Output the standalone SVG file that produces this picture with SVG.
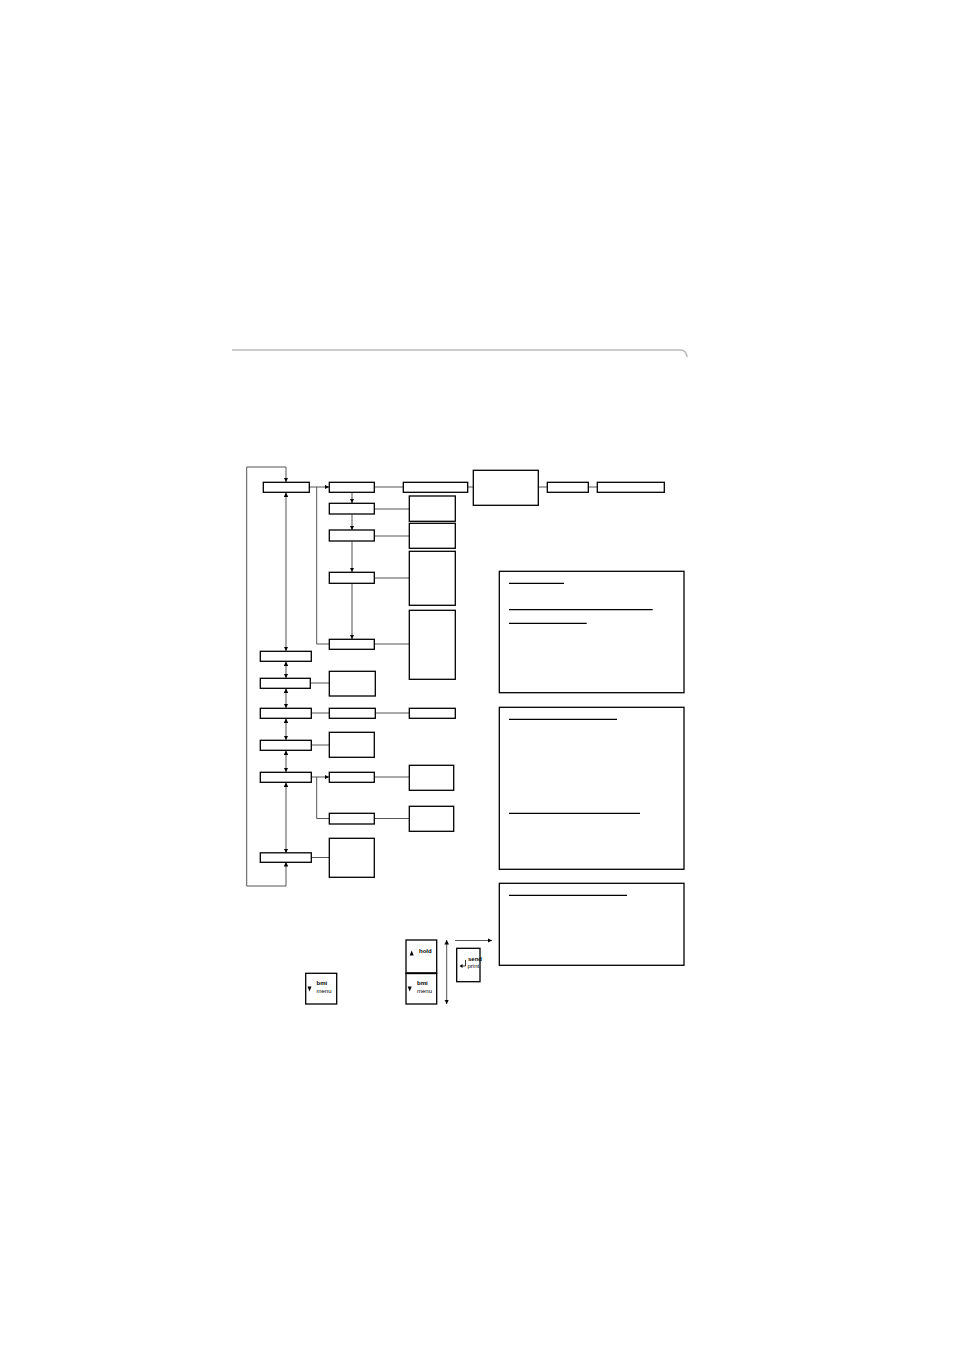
<svg xmlns="http://www.w3.org/2000/svg" width="954" height="1347" viewBox="0 0 954 1347">
<style>
.b{fill:#fff;stroke:#000;stroke-width:1.3}
.c{fill:none;stroke:#555;stroke-width:1}
.g{fill:none;stroke:#a0a0a0;stroke-width:1.8}
.u{stroke:#000;stroke-width:1.2}
.t{font-family:"Liberation Sans","DejaVu Sans",sans-serif;font-size:6px;fill:#000}
</style>
<defs>
<marker id="ar" viewBox="0 0 6 6" refX="6" refY="3" markerWidth="4.5" markerHeight="4.5" markerUnits="userSpaceOnUse" orient="auto-start-reverse">
<path d="M0,0 L6,3 L0,6 z" fill="#000"/>
</marker>
</defs>
<rect width="954" height="1347" fill="#fff"/>
<path d="M232,350 L681,350 Q686,350 687,357" fill="none" stroke="#bbb" stroke-width="1.6"/>

<g id="connectors">
<path class="c" d="M286,862 L286,886 L246.7,886 L246.7,467 L286,467 L286,482" marker-start="url(#ar)" marker-end="url(#ar)" stroke="#777"/>
<line class="g" x1="286" y1="492.5" x2="286" y2="651" marker-start="url(#ar)" marker-end="url(#ar)"/>
<line class="g" x1="286" y1="661.5" x2="286" y2="678" marker-start="url(#ar)" marker-end="url(#ar)"/>
<line class="g" x1="286" y1="688.5" x2="286" y2="708" marker-start="url(#ar)" marker-end="url(#ar)"/>
<line class="g" x1="286" y1="718.5" x2="286" y2="740" marker-start="url(#ar)" marker-end="url(#ar)"/>
<line class="g" x1="286" y1="750.5" x2="286" y2="772" marker-start="url(#ar)" marker-end="url(#ar)"/>
<line class="g" x1="286" y1="782.5" x2="286" y2="853" marker-start="url(#ar)" marker-end="url(#ar)"/>
<line class="c" x1="309" y1="487" x2="329" y2="487" stroke="#000" marker-end="url(#ar)"/>
<path class="c" d="M316.7,487 L316.7,644 L329,644"/>
<line class="g" x1="352" y1="492.5" x2="352" y2="503" marker-end="url(#ar)"/>
<line class="g" x1="352" y1="514.5" x2="352" y2="530" marker-end="url(#ar)"/>
<line class="g" x1="352" y1="541.5" x2="352" y2="572" marker-end="url(#ar)"/>
<line class="g" x1="352" y1="583.5" x2="352" y2="639" marker-end="url(#ar)"/>
<line class="c" x1="374.5" y1="487" x2="403" y2="487" stroke="#000"/>
<line class="c" x1="467.7" y1="487" x2="473" y2="487"/>
<line class="c" x1="538.5" y1="487" x2="547" y2="487"/>
<line class="c" x1="588.5" y1="487" x2="597" y2="487" stroke="#000"/>
<line class="c" x1="374.5" y1="509" x2="409" y2="509"/>
<line class="c" x1="374.5" y1="536" x2="409" y2="536" stroke="#000"/>
<line class="c" x1="374.5" y1="578" x2="409" y2="578"/>
<line class="c" x1="374.5" y1="644" x2="409" y2="644"/>
<line class="c" x1="310.5" y1="683" x2="329" y2="683"/>
<line class="c" x1="311.5" y1="713" x2="329" y2="713"/>
<line class="c" x1="375.5" y1="713" x2="409" y2="713" stroke="#000"/>
<line class="c" x1="311.5" y1="745" x2="329" y2="745"/>
<line class="c" x1="311.5" y1="777" x2="329" y2="777" stroke="#000" marker-end="url(#ar)"/>
<path class="c" d="M316.7,777 L316.7,818.5 L329,818.5" stroke="#999"/>
<line class="c" x1="374.5" y1="777" x2="409" y2="777"/>
<line class="c" x1="374.5" y1="818.5" x2="409" y2="818.5"/>
<line class="c" x1="311.5" y1="857.5" x2="329" y2="857.5"/>
<line class="c" x1="455" y1="940.5" x2="492" y2="940.5" stroke="#aaa" stroke-width="1.3" marker-end="url(#ar)"/>
<line class="c" x1="446.7" y1="940" x2="446.7" y2="1004" stroke="#000" marker-start="url(#ar)" marker-end="url(#ar)"/>
</g>

<g id="n-l1"><rect class="b" x="263.3" y="482.3" width="46" height="10"/></g>
<g id="n-l2"><rect class="b" x="260.3" y="651.3" width="51" height="10"/></g>
<g id="n-l3"><rect class="b" x="260.3" y="678.3" width="50" height="10"/></g>
<g id="n-l4"><rect class="b" x="260.3" y="708.3" width="51" height="10"/></g>
<g id="n-l5"><rect class="b" x="260.3" y="740.3" width="51" height="10"/></g>
<g id="n-l6"><rect class="b" x="260.3" y="772.3" width="51" height="10"/></g>
<g id="n-l7"><rect class="b" x="260.3" y="852.8" width="51" height="9.5"/></g>

<g id="n-m1"><rect class="b" x="329.3" y="482.3" width="45" height="10"/></g>
<g id="n-m2"><rect class="b" x="329.3" y="503.3" width="45" height="10.7"/></g>
<g id="n-m3"><rect class="b" x="329.3" y="530" width="45" height="11"/></g>
<g id="n-m4"><rect class="b" x="329.3" y="572.3" width="45" height="11"/></g>
<g id="n-m5"><rect class="b" x="329.3" y="639.3" width="45" height="10"/></g>
<g id="n-m6"><rect class="b" x="329.3" y="671.3" width="46" height="24.7"/></g>
<g id="n-m7"><rect class="b" x="329.3" y="708.3" width="46" height="10"/></g>
<g id="n-m8"><rect class="b" x="329.3" y="732.3" width="45" height="25"/></g>
<g id="n-m9"><rect class="b" x="329.3" y="772.3" width="45" height="10"/></g>
<g id="n-m10"><rect class="b" x="329.3" y="813.3" width="45" height="10.7"/></g>
<g id="n-m11"><rect class="b" x="329.3" y="838.3" width="45" height="39"/></g>

<g id="n-t1"><rect class="b" x="403.3" y="482.3" width="64.4" height="10"/></g>
<g id="n-t2"><rect class="b" x="473.3" y="470.3" width="65" height="35"/></g>
<g id="n-t3"><rect class="b" x="547.3" y="482.3" width="41" height="10"/></g>
<g id="n-t4"><rect class="b" x="597.3" y="482.3" width="67" height="10"/></g>

<g id="n-r1"><rect class="b" x="409.3" y="496" width="46" height="25.3"/></g>
<g id="n-r2"><rect class="b" x="409.3" y="523.3" width="46" height="25"/></g>
<g id="n-r3"><rect class="b" x="409.3" y="551.3" width="46" height="54"/></g>
<g id="n-r4"><rect class="b" x="409.3" y="610.3" width="46" height="69"/></g>
<g id="n-r5"><rect class="b" x="409.3" y="708.3" width="46" height="10"/></g>
<g id="n-r6"><rect class="b" x="409.3" y="765.3" width="44.4" height="25"/></g>
<g id="n-r7"><rect class="b" x="409.3" y="806.3" width="44.4" height="25"/></g>

<g id="n-info1">
<rect class="b" x="499.3" y="571.3" width="184.7" height="121.4"/>
<line class="u" x1="509" y1="583.3" x2="564" y2="583.3"/>
<line class="u" x1="509" y1="609.7" x2="652.7" y2="609.7"/>
<line class="u" x1="509" y1="623.3" x2="586.7" y2="623.3"/>
</g>
<g id="n-info2">
<rect class="b" x="499.3" y="707.3" width="184.7" height="162"/>
<line class="u" x1="509" y1="719.3" x2="617" y2="719.3"/>
<line class="u" x1="509" y1="813.3" x2="640" y2="813.3"/>
</g>
<g id="n-info3">
<rect class="b" x="499.3" y="883.3" width="184.7" height="82"/>
<line class="u" x1="509" y1="895.3" x2="627" y2="895.3"/>
</g>

<g id="n-btn-bmi-left">
<rect class="b" x="305.7" y="973.3" width="31" height="30.7" stroke-width="1"/>
<path d="M307.5,986.5 L311.5,986.5 L309.5,991.5 z" fill="#000"/>
<text class="t" x="316.5" y="984.5" font-weight="bold">bmi</text>
<text class="t" x="316.5" y="992.5">menu</text>
</g>
<g id="n-btn-hold">
<rect class="b" x="406" y="940" width="30.7" height="33.3" stroke-width="1"/>
<path d="M409.7,955.5 L413.7,955.5 L411.7,950.5 z" fill="#000"/>
<text class="t" x="419" y="952.5" font-weight="bold">hold</text>
</g>
<g id="n-btn-bmi">
<rect class="b" x="406" y="973.3" width="30.7" height="30.7" stroke-width="1"/>
<line x1="406" y1="973.3" x2="436.7" y2="973.3" stroke="#000" stroke-width="1.8"/>
<path d="M407.7,986.5 L411.7,986.5 L409.7,991.5 z" fill="#000"/>
<text class="t" x="417" y="984.5" font-weight="bold">bmi</text>
<text class="t" x="417" y="992.5">menu</text>
</g>
<g id="n-btn-send">
<rect class="b" x="456.7" y="948.3" width="23.3" height="33.4" stroke-width="1"/>
<path d="M465.5,960 L465.5,966 L461.5,966" fill="none" stroke="#000" stroke-width="0.8"/>
<path d="M459.5,966 L462.5,964 L462.5,968 z" fill="#000"/>
<text class="t" x="468" y="960.5" font-weight="bold">send</text>
<text class="t" x="467.5" y="967.5">print</text>
</g>
</svg>
